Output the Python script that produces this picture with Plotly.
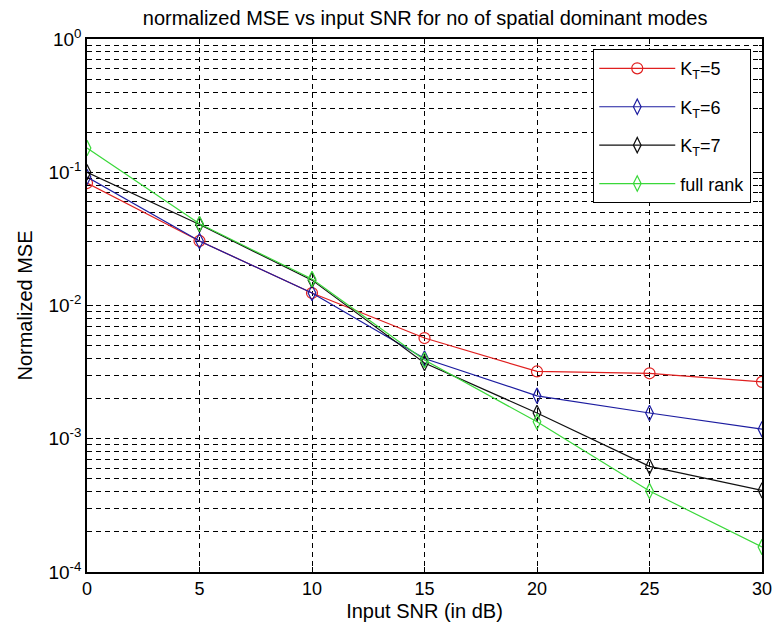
import plotly.graph_objects as go

snr = [0, 5, 10, 15, 20, 25, 30]
mse_k5 = [0.083, 0.0305, 0.0124, 0.0057, 0.0032, 0.0031, 0.00267]
mse_k6 = [0.092, 0.0305, 0.0124, 0.0040, 0.0021, 0.00156, 0.00118]
mse_k7 = [0.100, 0.0405, 0.0155, 0.0037, 0.00156, 0.00062, 0.00041]
mse_full = [0.152, 0.041, 0.0158, 0.0039, 0.00134, 0.000405, 0.000154]

names = ["K<sub>T</sub>=5", "K<sub>T</sub>=6", "K<sub>T</sub>=7", "full rank"]
colors = ["#e02020", "#1c1ca0", "#101010", "#3ad83a"]
symbols = ["circle-open", "diamond-tall-open", "diamond-tall-open", "diamond-tall-open"]
series = [mse_k5, mse_k6, mse_k7, mse_full]

decade_vals = [1e-4, 1e-3, 1e-2, 1e-1, 1e0]
decade_text = ["10<sup>-4</sup>", "10<sup>-3</sup>", "10<sup>-2</sup>", "10<sup>-1</sup>", "10<sup>0</sup>"]
minor_vals = [m * 10.0 ** e for e in range(-4, 0) for m in range(2, 10)]

font = "Liberation Sans, Arial, sans-serif"

fig = go.Figure()
for i, (nm, c, s, ys) in enumerate(zip(names, colors, symbols, series)):
    fig.add_trace(go.Scatter(
        x=snr, y=ys, name=nm, mode="lines+markers",
        line=dict(color=c, width=1.2),
        marker=dict(symbol=s, size=11, color=c, line=dict(color=c, width=1.2)),
        legendgroup=str(i),
    ))

grid_dash = "5px,4px"
fig.update_layout(
    width=773, height=630,
    paper_bgcolor="white", plot_bgcolor="white",
    margin=dict(l=87, r=11, t=39, b=58, autoexpand=False),
    font=dict(family=font, size=15, color="black"),
    title=dict(text="normalized MSE vs input SNR for no of spatial dominant modes",
               x=0.55, xanchor="center", y=0.972, yanchor="middle",
               font=dict(family=font, size=20, color="black")),
    showlegend=True,
    legend=dict(x=0.75, y=0.981, xanchor="left", yanchor="top",
                bgcolor="white", bordercolor="black", borderwidth=1,
                font=dict(family=font, size=18, color="black"),
                tracegroupgap=12, itemwidth=76),
)
fig.update_xaxes(
    range=[0, 30], tickmode="array", tickvals=snr, ticktext=[str(v) for v in snr],
    showline=True, linecolor="black", linewidth=1.5, mirror="ticks",
    ticks="inside", ticklen=5, tickcolor="black",
    showgrid=True, gridcolor="black", gridwidth=1, griddash=grid_dash,
    zeroline=False, ticklabeloverflow="allow", automargin=False,
    title=dict(text="Input SNR (in dB)", font=dict(family=font, size=20), standoff=6),
    tickfont=dict(family=font, size=18),
)
fig.update_yaxes(
    type="log", range=[-4, 0], tickmode="array", tickvals=decade_vals, ticktext=decade_text,
    showline=True, linecolor="black", linewidth=1.5, mirror="ticks",
    ticks="inside", ticklen=6, tickcolor="black",
    showgrid=True, gridcolor="black", gridwidth=1, griddash=grid_dash,
    minor=dict(tickmode="array", tickvals=minor_vals, ticks="inside", ticklen=3,
               tickcolor="black", showgrid=True, gridcolor="black", gridwidth=1,
               griddash=grid_dash),
    zeroline=False, ticklabeloverflow="allow", automargin=False,
    title=dict(text="Normalized MSE", font=dict(family=font, size=20), standoff=10),
    tickfont=dict(family=font, size=19),
)

fig.write_html("out.html")
